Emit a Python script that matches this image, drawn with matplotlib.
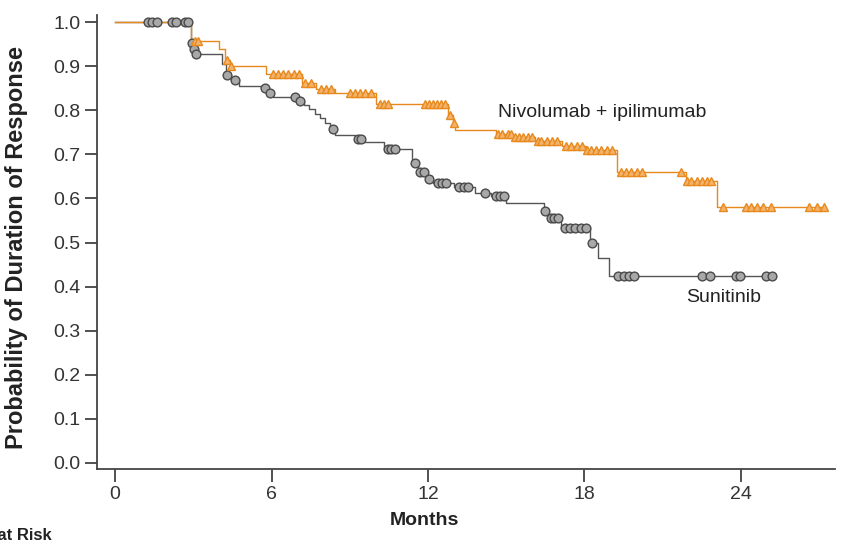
import numpy as np
import matplotlib.pyplot as plt

plt.rcParams['font.family'] = ['Liberation Sans', 'DejaVu Sans']

# Kaplan-Meier steps: time of each drop (months) and probability after it
niv_t = [0, 2.9, 4.0, 4.2, 4.4, 5.8, 7.15, 7.7, 8.45, 10.0, 12.75, 12.95,
         13.05, 14.6, 15.25, 16.1, 17.15, 18.05, 19.25, 21.9, 23.1]
niv_s = [1.0, 0.958, 0.94, 0.913, 0.9, 0.882, 0.861, 0.848, 0.84, 0.815,
         0.79, 0.77, 0.755, 0.747, 0.74, 0.73, 0.72, 0.71, 0.66, 0.64, 0.58]
niv_cens = [3.05, 3.2, 4.3, 4.45, 6.05, 6.25, 6.45, 6.65, 6.85, 7.05, 7.3,
            7.5, 7.9, 8.1, 8.3, 9.0, 9.2, 9.4, 9.6, 9.8, 10.15, 10.3, 10.45,
            11.9, 12.05, 12.2, 12.35, 12.5, 12.65, 12.85, 13.0, 14.7, 14.85,
            15.05, 15.2, 15.35, 15.5, 15.65, 15.85, 16.0, 16.2, 16.35, 16.55,
            16.75, 16.95, 17.3, 17.5, 17.7, 17.9, 18.1, 18.25, 18.45, 18.65,
            18.85, 19.05, 19.4, 19.6, 19.8, 20.0, 20.2, 21.7, 21.95, 22.1,
            22.3, 22.5, 22.7, 22.85, 23.3, 24.2, 24.4, 24.6, 24.85, 25.15,
            26.6, 26.9, 27.2]

sun_t = [0, 2.9, 2.98, 3.08, 4.1, 4.25, 4.45, 4.75, 5.6, 5.8, 6.05, 7.0,
         7.25, 7.45, 7.65, 7.85, 8.05, 8.25, 8.45, 9.2, 9.55, 10.3, 11.4,
         11.6, 11.95, 12.2, 13.0, 13.8, 14.4, 15.0, 16.45, 16.6, 17.1, 18.2,
         18.5, 18.95]
sun_s = [1.0, 0.952, 0.94, 0.928, 0.905, 0.879, 0.868, 0.856, 0.85, 0.84,
         0.829, 0.822, 0.812, 0.802, 0.792, 0.782, 0.772, 0.757, 0.745, 0.735,
         0.728, 0.712, 0.68, 0.66, 0.645, 0.636, 0.625, 0.613, 0.605, 0.59,
         0.572, 0.555, 0.532, 0.5, 0.465, 0.425]
sun_cens = [1.25, 1.4, 1.6, 2.2, 2.35, 2.7, 2.8, 2.95, 3.02, 3.12, 4.3, 4.6,
            5.75, 5.95, 6.9, 7.1, 8.35, 9.3, 9.45, 10.45, 10.6, 10.75, 11.5,
            11.7, 11.85, 12.05, 12.4, 12.55, 12.7, 13.2, 13.4, 13.55, 14.2,
            14.6, 14.75, 14.9, 16.5, 16.7, 16.85, 17.0, 17.25, 17.45, 17.65,
            17.85, 18.05, 18.3, 19.3, 19.5, 19.7, 19.9, 22.5, 22.8, 23.8,
            23.95, 24.95, 25.2]

orange = '#e8891e'
grey = '#555555'


def km_curve(ax, t, s, cens, color, marker, mfc, mec, ms):
    t = np.asarray(t, dtype=float)
    s = np.asarray(s, dtype=float)
    cens = np.asarray(cens, dtype=float)
    end = max(t[-1], cens.max())
    tt = np.append(t, end)
    ss = np.append(s, s[-1])
    ax.step(tt, ss, where='post', color=color, lw=1.0, zorder=2)
    # censored observations sit on the curve level at that time
    idx = np.searchsorted(t, cens, side='right') - 1
    ax.plot(cens, s[idx], ls='none', marker=marker, ms=ms, mfc=mfc,
            mec=mec, mew=1.0, zorder=3)


fig = plt.figure(figsize=(8.49, 5.42), dpi=100)
ax = fig.add_axes([0.1143, 0.1347, 0.869, 0.8376])

km_curve(ax, sun_t, sun_s, sun_cens, grey, 'o', '#a8a8a8', '#4a4a4a', 6.3)
km_curve(ax, niv_t, niv_s, niv_cens, orange, '^', '#f4b36a', orange, 6.3)

ax.text(14.7, 0.796, 'Nivolumab + ipilimumab', fontsize=14, va='center',
        ha='left', color='#222222')
ax.text(21.9, 0.375, 'Sunitinib', fontsize=14, va='center', ha='left',
        color='#222222')

ax.set_xlim(-0.69, 27.6)
ax.set_ylim(-0.0136, 1.016)
ax.set_xticks([0, 6, 12, 18, 24])
ax.set_yticks(np.arange(0, 1.01, 0.1))
ax.set_yticklabels([f'{v:.1f}' for v in np.arange(0, 1.01, 0.1)])
ax.tick_params(direction='out', length=9, width=1.2, labelsize=14,
               colors='#333333', pad=3)

for side in ['top', 'right']:
    ax.spines[side].set_visible(False)
for side in ['left', 'bottom']:
    ax.spines[side].set_linewidth(1.3)
    ax.spines[side].set_color('#444444')

ax.set_ylabel('Probability of Duration of Response', fontsize=17,
              fontweight='bold', color='#222222')
ax.yaxis.set_label_coords(-0.094, 0.487)
ax.set_xlabel('Months', fontsize=14, fontweight='bold', color='#222222')
ax.xaxis.set_label_coords(0.444, -0.095)

fig.text(52 / 849, 1 - 535 / 542, 'No. at Risk', fontsize=12,
         fontweight='bold', ha='right', va='center', color='#222222')

fig.savefig('out.png', dpi=100)
